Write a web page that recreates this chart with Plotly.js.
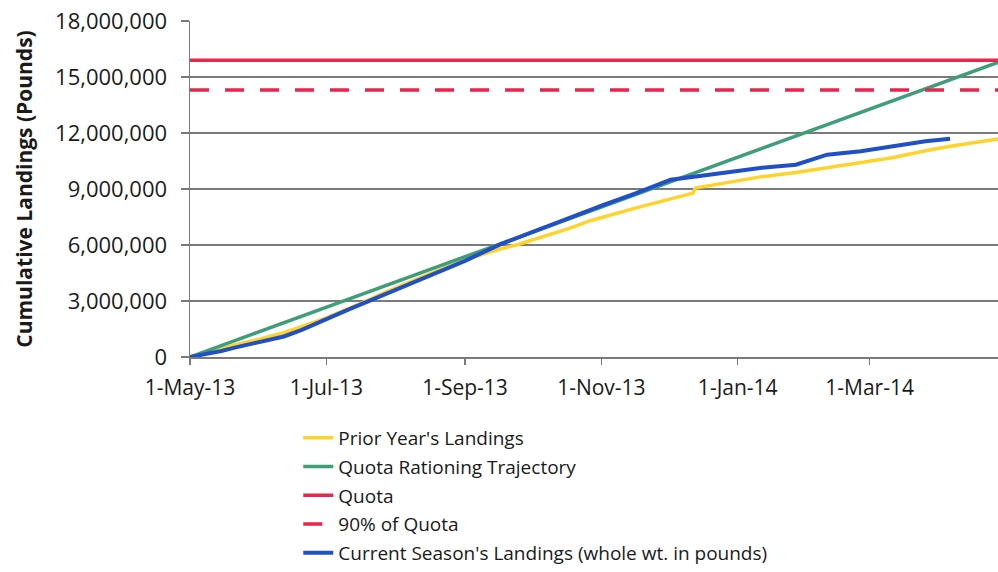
<!DOCTYPE html>
<html>
<head>
<meta charset="utf-8">
<script src="https://cdn.plot.ly/plotly-3.0.1.min.js"></script>
<style>
html,body{margin:0;padding:0;background:#fff;}
#chart{width:998px;height:572px;}
</style>
</head>
<body>
<div id="chart"></div>
<script>
// Prior year's landings
const priorDates = ['2013-05-01','2013-05-11','2013-05-21','2013-06-01','2013-06-12','2013-07-01','2013-07-15','2013-07-27','2013-08-15','2013-09-01','2013-09-17','2013-09-24','2013-10-18','2013-10-27','2013-11-17','2013-12-12','2013-12-13','2013-12-27','2014-01-11','2014-01-27','2014-02-10','2014-02-25','2014-03-11','2014-03-26','2014-04-06','2014-04-30'];
const priorValues = [0,300000,650000,950000,1300000,2100000,2800000,3450000,4400000,5200000,5800000,6000000,6900000,7300000,8000000,8780000,9050000,9350000,9650000,9880000,10130000,10400000,10670000,11050000,11290000,11720000];

// Quota rationing trajectory
const trajDates = ['2013-05-01','2014-04-30'];
const trajValues = [0,15900000];

// Quota and 90% of quota
const quotaDates = ['2013-05-01','2014-04-30'];
const quotaValues = [15900000,15900000];
const quota90Values = [14310000,14310000];

// Current season's landings
const currDates = ['2013-05-01','2013-05-08','2013-05-15','2013-05-21','2013-06-01','2013-06-12','2013-06-20','2013-07-01','2013-07-10','2013-07-25','2013-08-09','2013-08-19','2013-09-01','2013-09-17','2013-09-28','2013-10-16','2013-11-02','2013-11-16','2013-12-02','2013-12-15','2013-12-27','2014-01-11','2014-01-27','2014-02-10','2014-02-25','2014-03-11','2014-03-26','2014-04-06'];
const currValues = [0,150000,320000,500000,800000,1100000,1450000,2050000,2500000,3250000,4000000,4550000,5150000,6050000,6550000,7420000,8150000,8750000,9500000,9700000,9900000,10130000,10300000,10840000,11020000,11290000,11560000,11690000];

// Axis ticks
const xTickVals = ['2013-05-01','2013-07-01','2013-09-01','2013-11-01','2014-01-01','2014-03-01'];
const xTickText = ['1-May-13','1-Jul-13','1-Sep-13','1-Nov-13','1-Jan-14','1-Mar-14'];
const yTickVals = [0,3000000,6000000,9000000,12000000,15000000,18000000];

const names = ["Prior Year's Landings","Quota Rationing Trajectory","Quota","90% of Quota","Current Season's Landings (whole wt. in pounds)"];

const W = 3.5;
const traces = [
  {x: priorDates, y: priorValues, name: names[0], mode:'lines', line:{color:'#FFD42A', width:W}, legendgroup:'a'},
  {x: trajDates, y: trajValues, name: names[1], mode:'lines', line:{color:'#3E9E78', width:W}, legendgroup:'b'},
  {x: quotaDates, y: quotaValues, name: names[2], mode:'lines', line:{color:'#E8254D', width:W}, legendgroup:'c'},
  {x: quotaDates, y: quota90Values, name: names[3], mode:'lines', line:{color:'#E8254D', width:W, dash:'19px,16px'}, legendgroup:'d'},
  {x: currDates, y: currValues, name: names[4], mode:'lines', line:{color:'#2050C8', width:4}, legendgroup:'e'}
];

const font = 'Open Sans, Lato, sans-serif';
const layout = {
  width: 998, height: 572,
  margin: {l:189.5, r:0, t:21, b:215.3},
  paper_bgcolor:'#fff', plot_bgcolor:'#fff',
  showlegend: true,
  font: {family: font, color:'#1a1a1a'},
  xaxis: {
    type:'date',
    range:['2013-05-01','2014-04-27 10:00'],
    tickvals: xTickVals, ticktext: xTickText,
    tickfont:{size:21, family:font, color:'#1a1a1a'},
    showgrid:false, zeroline:false,
    showline:true, linecolor:'#7a7a7a', linewidth:1.5,
    ticks:'outside', ticklen:6, tickcolor:'#7a7a7a', tickwidth:1.5,
    ticklabelstandoff: 5
  },
  yaxis: {
    range:[0,18000000],
    tickvals: yTickVals, tickformat:',.0f',
    tickfont:{size:22, family:font, color:'#1a1a1a'},
    showgrid:true, gridcolor:'#7a7a7a', gridwidth:1.5,
    zeroline:false,
    showline:true, linecolor:'#7a7a7a', linewidth:1.5,
    ticks:'outside', ticklen:8, tickcolor:'#7a7a7a', tickwidth:1.5,
    ticklabelstandoff: 9,
    title:{text:'Cumulative Landings (Pounds)', font:{size:21, family:font, color:'#1a1a1a', weight:'bold'}, standoff:16}
  },
  legend: {
    x: 0.134, xanchor:'left', y: -0.185, yanchor:'top',
    orientation:'v', traceorder:'grouped', tracegroupgap: 1,
    font:{size:19, family:font, color:'#1a1a1a'},
    bgcolor:'rgba(0,0,0,0)', borderwidth:0
  }
};

Plotly.newPlot('chart', traces, layout, {staticPlot:true, displayModeBar:false});
</script>
</body>
</html>
